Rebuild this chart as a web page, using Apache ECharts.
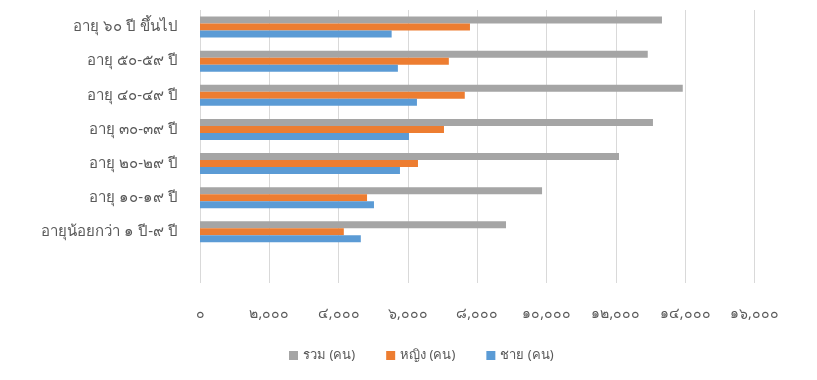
<!DOCTYPE html>
<html><head><meta charset="utf-8">
<script src="https://cdn.jsdelivr.net/npm/echarts@6/dist/echarts.min.js"></script>
<style>html,body{margin:0;padding:0;background:#fff}#c{width:817px;height:380px}</style>
</head><body><div id="c"></div>
<script>
var categories = ['', 'อายุน้อยกว่า ๑ ปี-๙ ปี', 'อายุ ๑๐-๑๙ ปี', 'อายุ ๒๐-๒๙ ปี', 'อายุ ๓๐-๓๙ ปี', 'อายุ ๔๐-๔๙ ปี', 'อายุ ๕๐-๕๙ ปี', 'อายุ ๖๐ ปี ขึ้นไป'];
var male   = [null, 4640, 5020, 5770, 6030, 6260, 5710, 5530];
var female = [null, 4150, 4820, 6290, 7040, 7640, 7180, 7790];
var total  = [null, 8830, 9870, 12090, 13070, 13930, 12920, 13330];
var seriesNames = ['รวม (คน)', 'หญิง (คน)', 'ชาย (คน)'];
var thaiDigits = ['๐','๑','๒','๓','๔','๕','๖','๗','๘','๙'];
function toThai(v){
  var s = v.toString().replace(/\B(?=(\d{3})+(?!\d))/g, ',');
  return s.replace(/\d/g, function(d){ return thaiDigits[+d]; });
}
var chart = echarts.init(document.getElementById('c'));
var font = 'Tahoma, "Noto Sans", sans-serif';
chart.setOption({
  animation: false,
  color: ['#a5a5a5', '#ed7d31', '#5b9bd5'],
  grid: {left: 200, right: 62.5, top: 10, bottom: 97},
  legend: {
    data: seriesNames, bottom: 13, left: 284, itemWidth: 9, itemHeight: 9, itemGap: 31,
    icon: 'rect', textStyle: {color: '#595959', fontSize: 13, fontFamily: font}
  },
  xAxis: {
    type: 'value', min: 0, max: 16000, interval: 2000,
    axisLine: {show: false}, axisTick: {show: false},
    splitLine: {lineStyle: {color: '#d9d9d9'}},
    axisLabel: {color: '#595959', fontSize: 14, fontFamily: font, margin: 24, formatter: toThai}
  },
  yAxis: {
    type: 'category', data: categories,
    axisLine: {show: false}, axisTick: {show: false},
    axisLabel: {color: '#595959', fontSize: 15, fontFamily: font, margin: 22}
  },
  series: [
    {name: seriesNames[0], type: 'bar', data: total, barWidth: 7, barGap: '0%'},
    {name: seriesNames[1], type: 'bar', data: female, barWidth: 7, barGap: '0%'},
    {name: seriesNames[2], type: 'bar', data: male, barWidth: 7, barGap: '0%'}
  ]
});
</script></body></html>
